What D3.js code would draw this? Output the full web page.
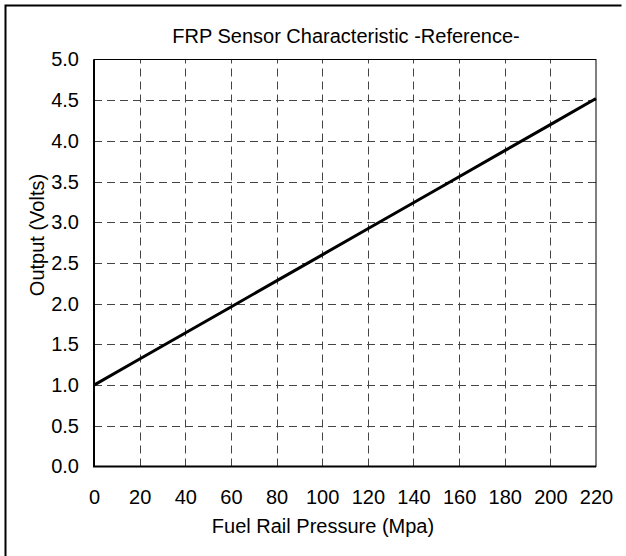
<!DOCTYPE html>
<html><head><meta charset="utf-8">
<script src="https://cdn.jsdelivr.net/npm/d3@7"></script>
<style>body{margin:0;background:#fff}svg{display:block}text{font-family:"Liberation Sans",Arial,sans-serif;fill:#000}</style>
</head><body>
<script>
const pressure = [0, 20, 40, 60, 80, 100, 120, 140, 160, 180, 200, 220];
const voltage  = [1.00, 1.32, 1.64, 1.96, 2.28, 2.60, 2.92, 3.24, 3.56, 3.88, 4.20, 4.52];
const xTicks = [0, 20, 40, 60, 80, 100, 120, 140, 160, 180, 200, 220];
const yTicks = [0, 0.5, 1, 1.5, 2, 2.5, 3, 3.5, 4, 4.5, 5];
const title = "FRP Sensor Characteristic -Reference-";
const xTitle = "Fuel Rail Pressure (Mpa)";
const yTitle = "Output (Volts)";

const W = 626, H = 556, FS = "20px";
const m = {left: 94, right: 596, top: 59.5, bottom: 466.5};
const svg = d3.select("body").append("svg").attr("width", W).attr("height", H);

// outer frame (top and left visible)
svg.append("path").attr("d", "M5.5,556 L5.5,5.5 L621.5,5.5")
  .attr("fill", "none").attr("stroke", "#000").attr("stroke-width", 2);

const x = d3.scaleLinear().domain([0, 220]).range([m.left, m.right]);
const y = d3.scaleLinear().domain([0, 5]).range([m.bottom, m.top]);

// grid
const g = svg.append("g").attr("stroke", "#444").attr("stroke-width", 1).attr("stroke-dasharray", "8,5");
g.selectAll(".gx").data(xTicks.filter(d => d > 0 && d < 220)).join("line")
  .attr("x1", d => Math.round(x(d)) + 0.5).attr("x2", d => Math.round(x(d)) + 0.5)
  .attr("y1", m.bottom).attr("y2", m.top);
g.selectAll(".gy").data(yTicks.filter(d => d > 0 && d < 5)).join("line")
  .attr("y1", d => Math.round(y(d)) + 0.5).attr("y2", d => Math.round(y(d)) + 0.5)
  .attr("x1", m.left).attr("x2", m.right);

// plot border
svg.append("rect").attr("x", m.left).attr("y", m.top)
  .attr("width", m.right - m.left).attr("height", m.bottom - m.top)
  .attr("fill", "none").attr("stroke", "#000").attr("stroke-width", 1);
svg.append("path").attr("d", `M${m.left},${m.top} L${m.left},${m.bottom} L${m.right},${m.bottom}`)
  .attr("fill", "none").attr("stroke", "#000").attr("stroke-width", 2);

// axes labels via d3 axes
const ax = svg.append("g").attr("transform", `translate(0,${m.bottom})`)
  .call(d3.axisBottom(x).tickValues(xTicks).tickSize(0).tickPadding(23.5).tickFormat(d3.format("d")));
ax.select(".domain").remove();
ax.selectAll("text").style("font-size", FS).style("font-family", "Liberation Sans, Arial, sans-serif");

const ay = svg.append("g").attr("transform", `translate(${m.left},0)`)
  .call(d3.axisLeft(y).tickValues(yTicks).tickSize(0).tickPadding(15).tickFormat(d3.format(".1f")));
ay.select(".domain").remove();
ay.selectAll("text").style("font-size", FS).style("font-family", "Liberation Sans, Arial, sans-serif");

// data line
const line = d3.line().x((d, i) => x(pressure[i])).y(d => y(d));
svg.append("path").datum(voltage).attr("d", line)
  .attr("fill", "none").attr("stroke", "#000").attr("stroke-width", 3);

// titles
svg.append("text").attr("x", 346).attr("y", 43).attr("text-anchor", "middle")
  .style("font-size", FS).text(title);
svg.append("text").attr("x", 323).attr("y", 533).attr("text-anchor", "middle")
  .style("font-size", FS).text(xTitle);
svg.append("text").attr("transform", "translate(44,235) rotate(-90)").attr("text-anchor", "middle")
  .style("font-size", FS).text(yTitle);
</script>
</body></html>
